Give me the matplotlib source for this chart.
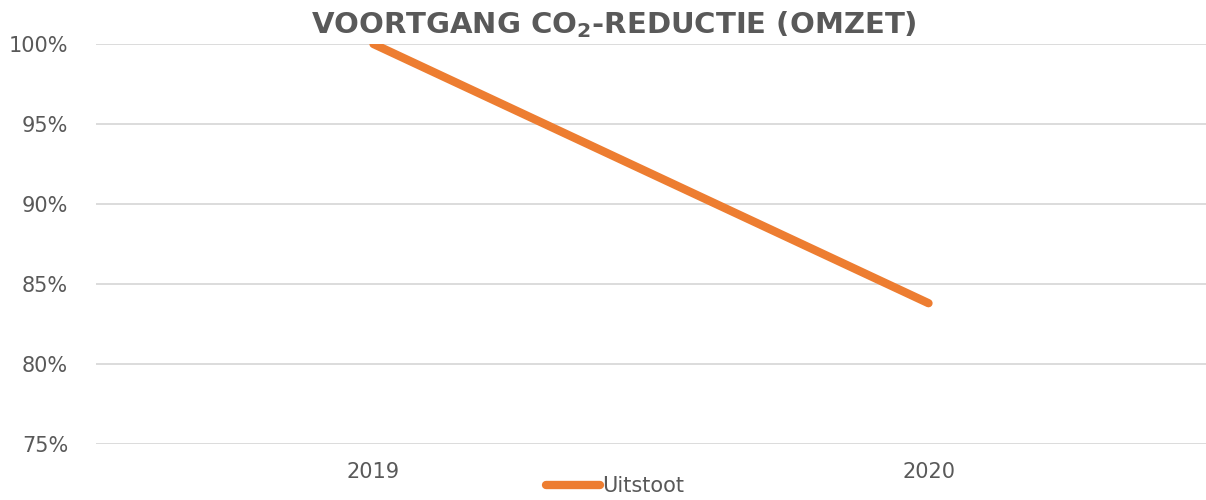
import matplotlib
matplotlib.use('Agg')
import matplotlib.pyplot as plt
from matplotlib.ticker import PercentFormatter

# Data
years = ['2019', '2020']
uitstoot = [1.00, 0.838]
y_ticks = [0.75, 0.80, 0.85, 0.90, 0.95, 1.00]

grey = '#595959'
orange = '#ED7D31'

fig = plt.figure(figsize=(12.06, 5), dpi=100)
ax = fig.add_axes([96 / 1206, 1 - 444 / 500, 1 - 96 / 1206, 400 / 500])

x = range(len(years))
ax.plot(x, uitstoot, color=orange, linewidth=6, solid_capstyle='round',
        label='Uitstoot', zorder=3)

ax.set_xlim(-0.5, len(years) - 0.5)
ax.set_ylim(0.75, 1.0)
ax.set_yticks(y_ticks)
ax.yaxis.set_major_formatter(PercentFormatter(1.0, decimals=0))
ax.set_xticks(list(x))
ax.set_xticklabels(years)

ax.grid(axis='y', color='#D9D9D9', linewidth=1.3)
ax.set_axisbelow(True)
for s in ax.spines.values():
    s.set_visible(False)
ax.tick_params(axis='both', length=0, colors=grey, labelsize=15)
ax.tick_params(axis='y', pad=20)
ax.tick_params(axis='x', pad=13)

fig.text(0.509, 0.95, r'VOORTGANG CO$_\mathbf{2}$-REDUCTIE (OMZET)', ha='center', va='center',
         fontsize=21, fontweight='bold', color=grey)

leg = fig.legend(loc='center', bbox_to_anchor=(0.51, 0.028), frameon=False,
                 fontsize=15, handlelength=2.6, handletextpad=0.1,
                 labelcolor=grey)

fig.savefig('out.png', dpi=100)
